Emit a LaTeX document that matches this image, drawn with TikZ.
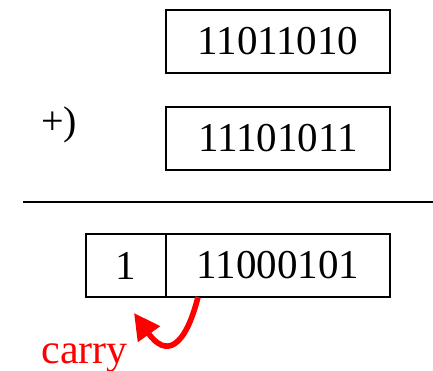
\documentclass[tikz,border=0pt]{standalone}
\usepackage{fontspec}
\setmainfont{Liberation Serif}
\usepackage{xcolor}
\usetikzlibrary{arrows.meta,positioning}
\definecolor{bnRed}{HTML}{FF0000}
\tikzset{
  bnbox/.style={
    draw, line width=1pt, outer sep=0pt, minimum height=31.5pt, minimum width=112pt,
    font=\fontsize{20.5}{24}\selectfont, inner sep=0pt
  },
  carrybox/.style={bnbox, minimum width=40pt},
  bnrule/.style={line width=1pt},
  carryarrow/.style={-{Triangle[length=13pt,width=13pt]}, line width=2.8pt, bnRed},
  carrytag/.style={font=\fontsize{21}{25}\selectfont, text=bnRed, inner sep=0pt}
}
\begin{document}
\begin{tikzpicture}[x=0.5pt,y=-0.5pt]
  \useasboundingbox (0,0) rectangle (433,370);
  % operands
  \node[bnbox] (first) at (278,41.5) {11011010};
  \node[bnbox] (second) at (278,138) {11101011};
  \node[font=\fontsize{20}{24}\selectfont, inner sep=0pt, anchor=base west] (plus) at (41,134) {+)};
  % rule
  \coordinate (ruleL) at (23,202);
  \coordinate (ruleR) at (433,202);
  \draw[bnrule] (ruleL) -- (ruleR);
  % result
  \node[bnbox] (sum) at (278,265.5) {11000101};
  \node[carrybox, left=0pt of sum] (carry) {1};
  % carry
  \coordinate (carryfrom) at (198,297);
  \coordinate (carryto) at (134,313);
  \draw[carryarrow] (carryfrom) .. controls (185,348) and (166,358) .. (carryto);
  \node[carrytag, anchor=base] (carrylabel) at (84.5,363) {carry};
\end{tikzpicture}
\end{document}
